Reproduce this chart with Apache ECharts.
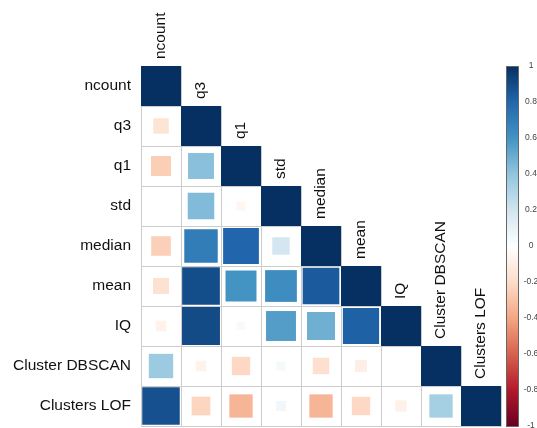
<!DOCTYPE html>
<html>
<head>
<meta charset="utf-8">
<script src="https://cdn.jsdelivr.net/npm/echarts@6/dist/echarts.min.js"></script>
<style>
  html, body { margin: 0; padding: 0; background: #fff; }
  #chart { width: 537px; height: 428px; }
</style>
</head>
<body>
<div id="chart"></div>
<script>
// Variables of the correlation matrix, in display order
const categories = ['ncount', 'q3', 'q1', 'std', 'median', 'mean', 'IQ', 'Cluster DBSCAN', 'Clusters LOF'];

// Lower-triangle correlations, one array per row (columns up to the diagonal)
const rowNcount  = [1];
const rowQ3      = [-0.15, 1];
const rowQ1      = [-0.25, 0.42, 1];
const rowStd     = [0.00, 0.44, -0.05, 1];
const rowMedian  = [-0.24, 0.70, 0.80, 0.19, 1];
const rowMean    = [-0.16, 0.89, 0.60, 0.63, 0.84, 1];
const rowIQ      = [-0.07, 0.90, 0.04, 0.56, 0.49, 0.82, 1];
const rowDBSCAN  = [0.37, -0.07, -0.21, 0.05, -0.17, -0.09, 0.00, 1];
const rowLOF     = [0.88, -0.22, -0.34, 0.06, -0.34, -0.21, -0.08, 0.34, 1];

// Colour-bar tick settings
const legendMin = -1;
const legendMax = 1;
const legendStep = 0.2;

const corrRows = [rowNcount, rowQ3, rowQ1, rowStd, rowMedian, rowMean, rowIQ, rowDBSCAN, rowLOF];

// [column, row, r]
const cells = [];
corrRows.forEach((row, r) => {
  row.forEach((v, c) => cells.push([c, r, v]));
});
const diagLabels = categories.map((name, i) => [i, i, name]);

const FONT = '"Liberation Sans", Arial, sans-serif';
const RdBu = ['#67001F', '#B2182B', '#D6604D', '#F4A582', '#FDDBC7', '#FFFFFF',
              '#D1E5F0', '#92C5DE', '#4393C3', '#2166AC', '#053061'];

// Colour bar: +1 at the top, -1 at the bottom
const barGradient = new echarts.graphic.LinearGradient(0, 0, 0, 1,
  RdBu.slice().reverse().map((color, i, arr) => ({ offset: i / (arr.length - 1), color })));

const chart = echarts.init(document.getElementById('chart'), null, { renderer: 'canvas' });

chart.setOption({
  backgroundColor: '#ffffff',
  animation: false,
  grid: [
    { left: 141, top: 66, width: 360, height: 360, outerBoundsMode: 'none' },
    { left: 506, top: 66, width: 12, height: 360, outerBoundsMode: 'none', show: false }
  ],
  xAxis: [
    { type: 'category', data: categories, gridIndex: 0, show: false },
    { type: 'value', gridIndex: 1, show: false, min: 0, max: 1 }
  ],
  yAxis: [
    {
      type: 'category', data: categories, gridIndex: 0, inverse: true,
      axisLine: { show: false }, axisTick: { show: false }, splitLine: { show: false },
      axisLabel: { margin: 10, fontSize: 15.5, color: '#111', fontFamily: FONT }
    },
    {
      type: 'value', gridIndex: 1, position: 'right',
      min: legendMin, max: legendMax, interval: legendStep,
      axisLine: { show: false },
      splitLine: { show: false },
      axisTick: { show: true, length: 3, lineStyle: { color: '#666', width: 1 } },
      axisLabel: {
        margin: 13, align: 'center', fontSize: 8.5, color: '#444', fontFamily: FONT,
        formatter: v => String(Math.round(v * 10) / 10)
      }
    }
  ],
  visualMap: {
    show: false,
    type: 'continuous',
    seriesIndex: 0,
    dimension: 2,
    min: legendMin,
    max: legendMax,
    inRange: { color: RdBu }
  },
  series: [
    {
      type: 'custom',
      xAxisIndex: 0,
      yAxisIndex: 0,
      data: cells,
      renderItem(params, api) {
        const v = api.value(2);
        const c = api.coord([api.value(0), api.value(1)]);
        const s = api.size([1, 1]);
        const side = Math.sqrt(Math.abs(v)) * Math.min(s[0], s[1]);
        return {
          type: 'group',
          children: [
            {
              type: 'rect',
              shape: { x: c[0] - s[0] / 2 + 0.5, y: c[1] - s[1] / 2 + 0.5, width: s[0], height: s[1] },
              style: { fill: '#fff', stroke: '#cccccc', lineWidth: 1 }
            },
            {
              type: 'rect',
              shape: { x: c[0] - side / 2, y: c[1] - side / 2, width: side, height: side },
              style: { fill: api.visual('color') }
            }
          ]
        };
      }
    },
    {
      type: 'custom',
      xAxisIndex: 0,
      yAxisIndex: 0,
      data: diagLabels,
      z: 5,
      renderItem(params, api) {
        const c = api.coord([api.value(0), api.value(1)]);
        const s = api.size([1, 1]);
        return {
          type: 'text',
          x: c[0],
          y: c[1] - s[1] / 2 - 7,
          rotation: Math.PI / 2,
          style: {
            text: diagLabels[params.dataIndex][2],
            fill: '#111',
            fontSize: 15.5,
            fontFamily: FONT,
            align: 'left',
            verticalAlign: 'middle'
          }
        };
      }
    },
    {
      // colour legend bar spanning the full -1..1 range of the legend axis
      type: 'custom',
      xAxisIndex: 1,
      yAxisIndex: 1,
      data: [[0, legendMax, 1, legendMin]],
      renderItem(params, api) {
        const p0 = api.coord([api.value(0), api.value(1)]);
        const p1 = api.coord([api.value(2), api.value(3)]);
        return {
          type: 'rect',
          shape: { x: p0[0] + 0.5, y: p0[1] + 0.5, width: p1[0] - p0[0], height: p1[1] - p0[1] },
          style: { fill: barGradient, stroke: '#666', lineWidth: 1 }
        };
      }
    }
  ]
});
</script>
</body>
</html>
